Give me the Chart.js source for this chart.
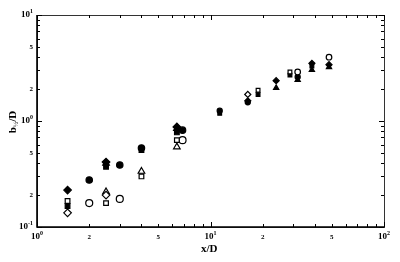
<!DOCTYPE html>
<html>
<head>
<meta charset="utf-8">
<script src="https://cdn.jsdelivr.net/npm/chart.js@4/dist/chart.umd.min.js"></script>
<style>
  html, body { margin: 0; padding: 0; background: #fff; }
  #wrap { width: 400px; height: 262px; }
</style>
</head>
<body>
<div id="wrap"><canvas id="c"></canvas></div>
<script>
// x/D and b/D values, one pair of arrays per marker type
var filledDiamondX = [1.5, 2.5, 6.4, 16.4, 23.9, 38.4, 48.2];
var filledDiamondY = [0.223, 0.41, 0.88, 1.55, 2.4, 3.5, 3.4];
var filledCircleX = [2, 3, 4, 6.9, 11.3, 16.4, 31.8];
var filledCircleY = [0.278, 0.385, 0.556, 0.82, 1.25, 1.5, 2.6];
var openSquareX = [1.5, 2.5, 4, 6.4, 18.8, 28.7];
var openSquareY = [0.176, 0.168, 0.30, 0.66, 1.95, 2.9];
var filledSquareX = [1.5, 2.5, 4, 6.4, 11.3, 18.8, 28.7, 38.4];
var filledSquareY = [0.158, 0.37, 0.533, 0.78, 1.18, 1.78, 2.71, 3.3];
var openDiamondX = [1.5, 2.5, 16.4];
var openDiamondY = [0.136, 0.20, 1.78];
var openCircleX = [2, 3, 6.9, 31.8, 48.2];
var openCircleY = [0.168, 0.184, 0.66, 2.9, 4.0];
var openTriangleX = [2.5, 4, 6.4];
var openTriangleY = [0.215, 0.335, 0.57];
var filledTriangleX = [2.5, 6.4, 23.9, 31.8, 38.4, 48.2];
var filledTriangleY = [0.40, 0.85, 2.05, 2.44, 3.03, 3.23];

// tick labels: [value, base text, exponent]
var xTickLabels = [[1, "10", "0"], [2, "2", ""], [5, "5", ""], [10, "10", "1"], [20, "2", ""], [50, "5", ""], [100, "10", "2"]];
var yTickLabels = [[0.1, "10", "-1"], [0.2, "2", ""], [0.5, "5", ""], [1, "10", "0"], [2, "2", ""], [5, "5", ""], [10, "10", "1"]];

var FONT = '"Liberation Serif", "DejaVu Serif", serif';

function pts(xs, ys) {
    var out = [];
    for (var i = 0; i < xs.length; i++) out.push({ x: xs[i], y: ys[i] });
    return out;
}

function series(xs, ys, style, filled, r) {
    return {
        data: pts(xs, ys),
        pointStyle: style,
        // markers in the far field are printed smaller in the source figure
        pointRadius: function (c) {
            var p = c.raw;
            return p && p.x > 10 ? r * 0.8 : r;
        },
        pointBorderWidth: 1.2,
        pointBorderColor: "#000",
        pointBackgroundColor: filled ? "#000" : "#fff",
        showLine: false
    };
}

function minorValues(lo, hi) {
    var vals = [];
    for (var d = lo; d < hi; d *= 10) {
        for (var m = 1; m < 10; m++) vals.push({ v: d * m, major: m === 1 });
    }
    vals.push({ v: hi, major: true });
    return vals;
}

function drawLabel(ctx, text, exp, x, y, align) {
    ctx.font = "bold " + (exp ? 9 : 7) + "px " + FONT;
    var w1 = ctx.measureText(text).width;
    ctx.font = "bold 6px " + FONT;
    var w2 = exp ? ctx.measureText(exp).width : 0;
    var total = w1 + w2;
    var start = align === "right" ? x - total : x - total / 2;
    ctx.textAlign = "left";
    ctx.textBaseline = "middle";
    ctx.font = "bold " + (exp ? 9 : 7) + "px " + FONT;
    ctx.fillText(text, start, y);
    if (exp) {
        ctx.font = "bold 6px " + FONT;
        ctx.fillText(exp, start + w1, y - 4);
    }
}

var framePlugin = {
    id: "frame",
    afterDraw: function (chart) {
        var ctx = chart.ctx;
        var a = chart.chartArea;
        var xs = chart.scales.x, ys = chart.scales.y;
        ctx.save();
        ctx.strokeStyle = "#000";
        ctx.fillStyle = "#000";
        // frame: thin grey top/right, heavier left/bottom
        ctx.lineWidth = 1;
        ctx.strokeStyle = "#333";
        ctx.strokeRect(a.left + 0.5, a.top + 0.5, a.right - a.left, a.bottom - a.top);
        ctx.strokeStyle = "#000";
        ctx.lineWidth = 1.6;
        ctx.beginPath();
        ctx.moveTo(a.left, a.top);
        ctx.lineTo(a.left, a.bottom);
        ctx.lineTo(a.right, a.bottom);
        ctx.stroke();
        // inward ticks
        ctx.lineWidth = 1;
        ctx.beginPath();
        minorValues(1, 100).forEach(function (t) {
            var px = Math.round(xs.getPixelForValue(t.v)) + 0.5;
            var len = t.major ? 5 : 3;
            ctx.moveTo(px, a.bottom); ctx.lineTo(px, a.bottom - len);
            ctx.moveTo(px, a.top); ctx.lineTo(px, a.top + len);
        });
        minorValues(0.1, 10).forEach(function (t) {
            var py = Math.round(ys.getPixelForValue(t.v)) + 0.5;
            var len = t.major ? 5 : 3;
            ctx.moveTo(a.left, py); ctx.lineTo(a.left + len, py);
            ctx.moveTo(a.right, py); ctx.lineTo(a.right - len, py);
        });
        ctx.stroke();
        // tick labels
        xTickLabels.forEach(function (t) {
            drawLabel(ctx, t[1], t[2], xs.getPixelForValue(t[0]), a.bottom + 10, "center");
        });
        yTickLabels.forEach(function (t) {
            drawLabel(ctx, t[1], t[2], a.left - 4, ys.getPixelForValue(t[0]), "right");
        });
        // axis titles
        ctx.textAlign = "left";
        ctx.textBaseline = "middle";
        ctx.font = "bold 11px " + FONT;
        ctx.fillText("x/D", 201, 249);
        ctx.translate(13, 122);
        ctx.rotate(-Math.PI / 2);
        ctx.font = "bold 11px " + FONT;
        var wb = ctx.measureText("b").width;
        ctx.font = "bold 7px " + FONT;
        var ws = ctx.measureText("\u00bd").width;
        ctx.font = "bold 11px " + FONT;
        var wd = ctx.measureText("/D").width;
        var x0 = -(wb + ws + wd) / 2;
        ctx.fillText("b", x0, 0);
        ctx.font = "bold 7px " + FONT;
        ctx.fillText("\u00bd", x0 + wb, 3);
        ctx.font = "bold 11px " + FONT;
        ctx.fillText("/D", x0 + wb + ws, 0);
        ctx.restore();
    }
};

new Chart(document.getElementById("c"), {
    type: "scatter",
    data: {
        datasets: [
            series(openSquareX, openSquareY, "rect", false, 3.3),
            series(openDiamondX, openDiamondY, "rectRot", false, 3.8),
            series(openTriangleX, openTriangleY, "triangle", false, 3.8),
            series(openCircleX, openCircleY, "circle", false, 3.5),
            series(filledSquareX, filledSquareY, "rect", true, 3.3),
            series(filledTriangleX, filledTriangleY, "triangle", true, 3.8),
            series(filledCircleX, filledCircleY, "circle", true, 3.2),
            series(filledDiamondX, filledDiamondY, "rectRot", true, 3.8)
        ]
    },
    options: {
        responsive: true,
        maintainAspectRatio: false,
        animation: false,
        layout: { padding: { left: 37, top: 15, right: 16, bottom: 35 } },
        plugins: {
            legend: { display: false },
            tooltip: { enabled: false }
        },
        scales: {
            x: { type: "logarithmic", min: 1, max: 100, display: false },
            y: { type: "logarithmic", min: 0.1, max: 10, display: false }
        }
    },
    plugins: [framePlugin]
});
</script>
</body>
</html>
